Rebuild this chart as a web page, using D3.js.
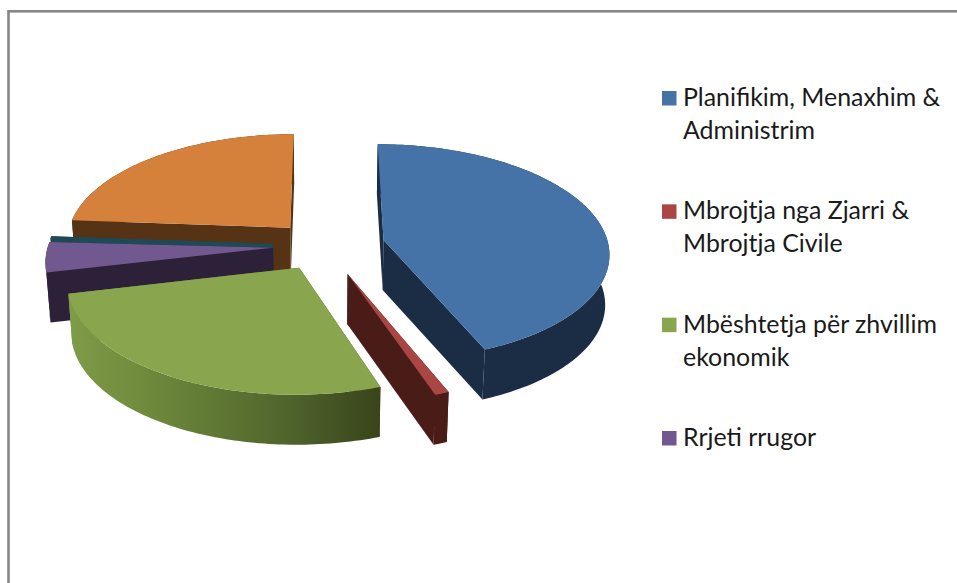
<!DOCTYPE html>
<html>
<head>
<meta charset="utf-8">
<script src="https://cdn.jsdelivr.net/npm/d3@7"></script>
<style>
  html, body { margin: 0; padding: 0; background: #fff; }
  svg { display: block; }
</style>
</head>
<body>
<svg id="chart" width="957" height="583"></svg>
<script>
// slice shares in percent, clockwise from 12 o'clock
const sliceValues = [43.8, 0.9, 26.7, 4.45, 0.3, 23.85];
const sliceTop = ["#4572a7", "#aa4643", "#89a54e", "#71588f", "#1d4a56", "#d5813b"];
const sliceSide = ["#1a2d45", "#4a1c18", "#3f4d20", "#2c2138", "#1d4a56", "#573315"];
const explode = [60, 62, 52, 52, 52, 52];
// back to front
const drawOrder = [5, 4, 3, 2, 0, 1];

const legendLabels = [
  ["Planifikim, Menaxhim &", "Administrim"],
  ["Mbrojtja nga Zjarri &", "Mbrojtja Civile"],
  ["Mbështetja për zhvillim", "ekonomik"],
  ["Rrjeti rrugor"]
];
const greenRamp = ["#7f9c48", "#6f8a3c", "#5e7633", "#4c5f2a", "#39441a"];

const width = 957;
const height = 583;
const cx = 325;
const cy = 245.5;
const radius = 225;
const tilt = 0.478;      // vertical squash of the pie plane
const persp = 0.000494;  // perspective strength
const depth = 50;
const depthScale = 0.985;

const svg = d3.select("#chart");

svg.append("rect")
  .attr("x", 8.5).attr("y", 11.3)
  .attr("width", width + 20).attr("height", height + 20)
  .attr("fill", "#fff")
  .attr("stroke", "#868686")
  .attr("stroke-width", 2.6);

// ground plane -> screen, z = 1 is the bottom of the pie
function project(X, Y, z) {
  let w = 1 + Y * persp;
  let sx = X / w;
  let sy = -Y * tilt / w;
  if (z) {
    sx *= depthScale;
    sy += depth;
  }
  return [cx + sx, cy + sy];
}

const pie = d3.pie().sort(null).value(d => d);
const slices = pie(sliceValues);
const line = d3.line();
const closed = pts => line(pts) + "Z";

const defs = svg.append("defs");
const chartG = svg.append("g").attr("id", "pie");

function drawSlice(i) {
  let s = slices[i];
  let mid = (s.startAngle + s.endAngle) / 2;
  let ox = explode[i] * Math.sin(mid);
  let oy = explode[i] * Math.cos(mid);
  let at = (a, r, z) => project(ox + r * Math.sin(a), oy + r * Math.cos(a), z);

  let n = Math.max(4, Math.ceil((s.endAngle - s.startAngle) / 0.02));
  let angles = d3.range(n + 1).map(k => s.startAngle + (s.endAngle - s.startAngle) * k / n);
  let rimTop = angles.map(a => at(a, radius, 0));
  let rimBottom = angles.map(a => at(a, radius, 1));
  let wall = rimTop.concat(rimBottom.slice().reverse());

  let g = chartG.append("g");
  let sideColor = sliceSide[i];
  let wallFill = sideColor;

  if (i === 2) {
    // the green wall fades from light to dark going right
    let ext = d3.extent(wall, p => p[0]);
    let grad = defs.append("linearGradient").attr("id", "greenWall")
      .attr("gradientUnits", "userSpaceOnUse")
      .attr("x1", ext[0]).attr("x2", ext[1]).attr("y1", 0).attr("y2", 0);
    greenRamp.forEach((c, k) => {
      grad.append("stop").attr("offset", k / (greenRamp.length - 1)).attr("stop-color", c);
    });
    wallFill = "url(#greenWall)";
    sideColor = wallFill;
  }

  let face = a => closed([at(a, 0, 0), at(a, radius, 0), at(a, radius, 1), at(a, 0, 1)]);
  g.append("path").attr("d", face(s.startAngle)).attr("fill", sideColor);
  g.append("path").attr("d", face(s.endAngle)).attr("fill", sideColor);
  g.append("path").attr("d", closed(wall)).attr("fill", wallFill);

  g.append("path")
    .attr("d", closed([at(0, 0, 0)].concat(rimTop)))
    .attr("fill", sliceTop[i]);
}

drawOrder.forEach(drawSlice);

// legend
const legendRow = d3.scalePoint()
  .domain(d3.range(legendLabels.length))
  .range([106, 446]);

const legend = svg.append("g").attr("id", "legend");
legendLabels.forEach((lines, i) => {
  let y = legendRow(i);
  legend.append("rect")
    .attr("x", 662).attr("y", y - 15)
    .attr("width", 14.5).attr("height", 14.5)
    .attr("fill", sliceTop[i]);
  lines.forEach((t, j) => {
    legend.append("text")
      .attr("x", 683)
      .attr("y", y + j * 33)
      .attr("font-family", "Lato, sans-serif")
      .attr("font-size", "24.9px")
      .attr("fill", "#1a1a1a")
      .text(t);
  });
});
</script>
</body>
</html>
